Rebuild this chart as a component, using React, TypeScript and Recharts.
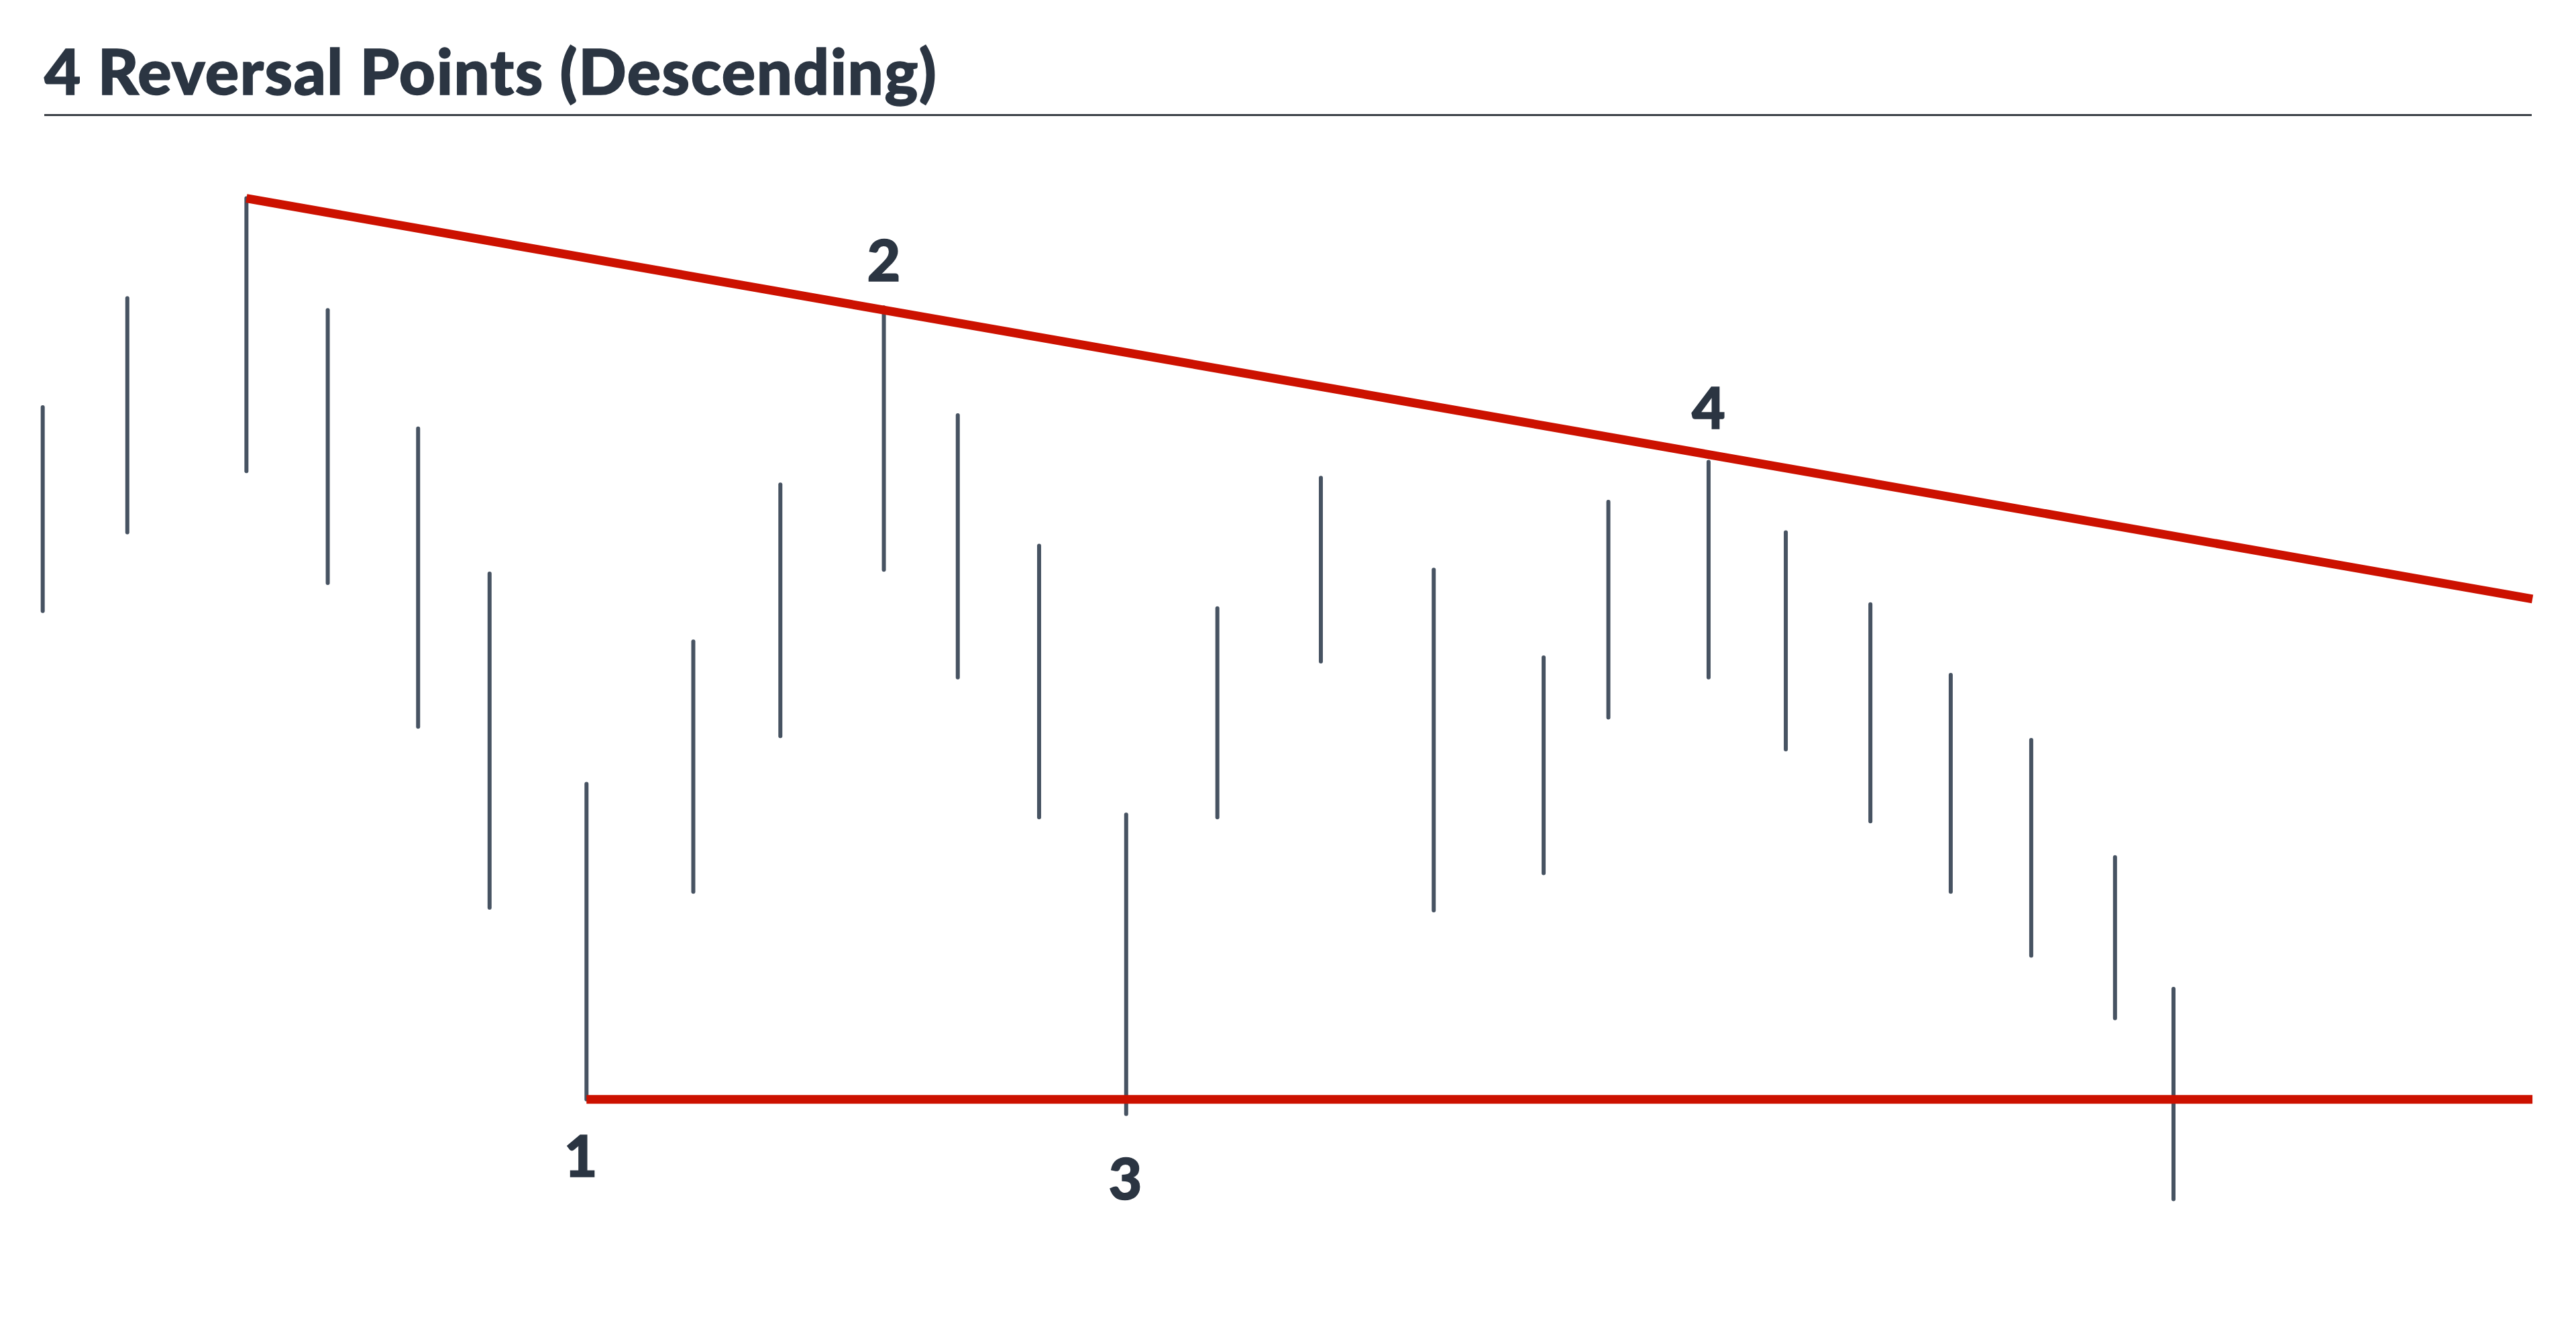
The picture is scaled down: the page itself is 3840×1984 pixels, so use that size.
import React from 'react';
import { ComposedChart, XAxis, YAxis, Line, Scatter } from 'recharts';

// price bars: time, high, low
const barTimes = [2.6, 7.75, 15.0, 19.95, 25.45, 29.8, 35.7, 42.2, 47.5, 53.8, 58.3, 63.25, 68.55, 74.1, 80.4, 87.27, 93.96, 97.9, 104.0, 108.7, 113.85, 118.74, 123.64, 128.74, 132.3];
const barHighs = [69.4, 77.6, 85.1, 76.7, 67.8, 56.9, 41.1, 51.8, 63.6, 76.9, 68.8, 59.0, 38.8, 54.3, 64.1, 57.2, 50.6, 62.3, 65.3, 60.0, 54.6, 49.3, 44.4, 35.6, 25.7];
const barLows = [54.1, 60.0, 64.6, 56.2, 45.4, 31.8, 17.4, 33.0, 44.7, 57.2, 49.1, 38.6, 16.3, 38.6, 50.3, 31.6, 34.4, 46.1, 49.1, 43.7, 38.3, 33.0, 28.2, 23.5, 9.9];

// trend lines
const resistance = [{ t: 15.0, p: 85.1 }, { t: 154.15, p: 55.0 }];
const support = [{ t: 35.7, p: 17.4 }, { t: 154.15, p: 17.4 }];

// reversal point labels
const pointLabels = ['1', '2', '3', '4'];
const pointTimes = [35.35, 53.8, 68.5, 104.0];
const pointPrices = [11.6, 78.9, 9.9, 67.8];

const bars = barTimes.map((t, i) => [
  { t, p: barHighs[i] },
  { t, p: barLows[i] },
]);

const labelData = pointLabels.map((label, i) => ({ t: pointTimes[i], p: pointPrices[i], label }));

const renderLabel = (props: any) => (
  <text
    x={props.cx}
    y={props.cy}
    textAnchor="middle"
    fontFamily="Lato, 'Open Sans', sans-serif"
    fontWeight={900}
    fontSize={86}
    fill="#2b3542"
    stroke="#2b3542"
    strokeWidth={1.5}
  >
    {props.payload.label}
  </text>
);

export default function App() {
  return (
    <div style={{ position: 'relative', width: 3840, height: 1984, background: '#fff' }}>
      <style>{'body{margin:0}'}</style>
      <div
        style={{
          position: 'absolute',
          left: 66,
          top: 49,
          fontFamily: "Lato, 'Open Sans', sans-serif",
          fontWeight: 900,
          fontSize: 94,
          lineHeight: 1.2,
          letterSpacing: 1.5,
          color: '#2b3542',
          WebkitTextStroke: '1.5px #2b3542',
          whiteSpace: 'nowrap',
        }}
      >
        4 Reversal Points (Descending)
      </div>
      <div
        style={{
          position: 'absolute',
          left: 66,
          top: 170,
          width: 3708,
          height: 3,
          background: '#3a3f46',
        }}
      />
      <div style={{ position: 'absolute', left: 0, top: 0 }}>
        <ComposedChart width={3840} height={1984} margin={{ top: 0, right: 0, bottom: 0, left: 0 }}>
          <XAxis type="number" dataKey="t" domain={[0, 156.8]} hide allowDataOverflow />
          <YAxis type="number" dataKey="p" domain={[0, 100]} hide allowDataOverflow />
          {bars.map((d, i) => (
            <Line
              key={`bar-${i}`}
              data={d}
              dataKey="p"
              stroke="#475362"
              strokeWidth={6}
              strokeLinecap="round"
              dot={false}
              activeDot={false}
              isAnimationActive={false}
            />
          ))}
          <Line
            data={resistance}
            dataKey="p"
            stroke="#cc1100"
            strokeWidth={13}
            dot={false}
            activeDot={false}
            isAnimationActive={false}
          />
          <Line
            data={support}
            dataKey="p"
            stroke="#cc1100"
            strokeWidth={13}
            dot={false}
            activeDot={false}
            isAnimationActive={false}
          />
          <Scatter data={labelData} dataKey="p" shape={renderLabel} isAnimationActive={false} />
        </ComposedChart>
      </div>
    </div>
  );
}
